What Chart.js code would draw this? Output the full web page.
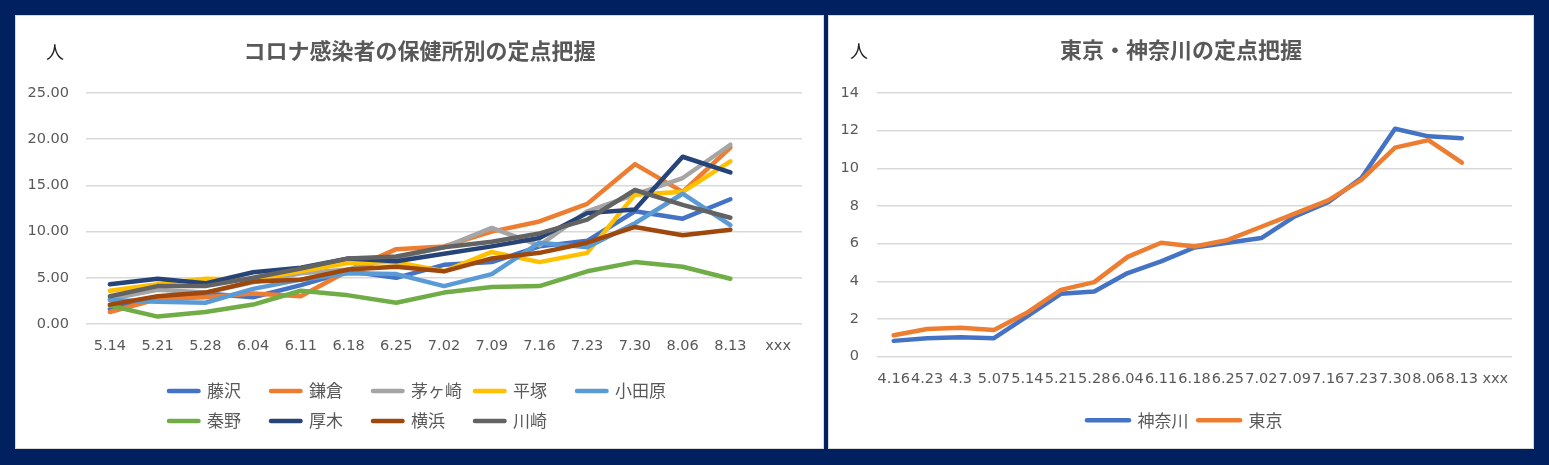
<!DOCTYPE html>
<html lang="ja">
<head>
<meta charset="utf-8">
<script src="https://cdn.jsdelivr.net/npm/chart.js@4.4.0/dist/chart.umd.min.js"></script>
<style>
  html, body { margin: 0; padding: 0; }
  body { width: 1549px; height: 465px; background: #002060; position: relative; overflow: hidden; }
  .cadre { position: absolute; top: 15px; height: 434px; box-sizing: border-box; border: 1px solid #d9d9d9; background: #fff; }
  .zone { position: relative; width: 100%; height: 100%; }
  .unite { position: absolute; font: 18px 'Noto Sans CJK JP'; color: #222; transform: translate(-50%, -50%); }
</style>
</head>
<body>
<div class="cadre" style="left:15px;width:809px">
  <div class="zone"><canvas id="graph1"></canvas><span class="unite" style="left:39px;top:35px">人</span></div>
</div>
<div class="cadre" style="left:828px;width:706px">
  <div class="zone"><canvas id="graph2"></canvas><span class="unite" style="left:30px;top:34px">人</span></div>
</div>
<script>
// valeurs (保健所別)
const semaines = ['5.14', '5.21', '5.28', '6.04', '6.11', '6.18', '6.25', '7.02', '7.09', '7.16', '7.23', '7.30', '8.06', '8.13', 'xxx'];
const fujisawa  = [1.6, 2.9, 3.3, 2.9, 4.2, 5.7, 5.0, 6.4, 6.7, 8.4, 9.0, 12.2, 11.4, 13.5];
const kamakura  = [1.3, 2.7, 2.9, 3.3, 3.0, 5.8, 8.1, 8.4, 10.0, 11.1, 13.0, 17.3, 14.3, 19.1];
const chigasaki = [2.7, 3.7, 3.4, 4.5, 5.5, 5.9, 7.2, 8.3, 10.4, 8.5, 12.2, 14.0, 15.8, 19.4];
const hiratsuka = [3.6, 4.3, 4.9, 4.8, 5.7, 6.6, 6.7, 5.7, 7.8, 6.7, 7.7, 14.0, 14.3, 17.6];
const odawara   = [2.6, 2.4, 2.3, 3.8, 4.8, 5.5, 5.4, 4.1, 5.4, 8.8, 8.3, 10.9, 14.1, 10.7];
const hadano    = [2.0, 0.8, 1.3, 2.1, 3.6, 3.1, 2.3, 3.4, 4.0, 4.1, 5.7, 6.7, 6.2, 4.9];
const atsugi    = [4.3, 4.9, 4.4, 5.6, 6.1, 7.1, 6.8, 7.6, 8.4, 9.3, 12.0, 12.4, 18.1, 16.4];
const yokohama  = [2.1, 3.0, 3.4, 4.6, 4.8, 5.9, 6.2, 5.7, 7.1, 7.7, 8.8, 10.5, 9.6, 10.2];
const kawasaki  = [3.0, 4.1, 4.1, 5.0, 6.0, 7.1, 7.3, 8.3, 8.9, 9.8, 11.3, 14.5, 12.9, 11.5];

// valeurs (東京・神奈川)
const semaines2 = ['4.16', '4.23', '4.3', '5.07', '5.14', '5.21', '5.28', '6.04', '6.11', '6.18', '6.25', '7.02', '7.09', '7.16', '7.23', '7.30', '8.06', '8.13', 'xxx'];
const kanagawa = [0.84, 0.98, 1.03, 0.98, 2.15, 3.34, 3.46, 4.44, 5.06, 5.8, 6.05, 6.3, 7.45, 8.2, 9.5, 12.1, 11.7, 11.6];
const tokyo    = [1.14, 1.47, 1.54, 1.42, 2.35, 3.55, 3.96, 5.3, 6.05, 5.85, 6.2, 6.9, 7.6, 8.3, 9.4, 11.1, 11.5, 10.3];

const gris = '#595959';
const cjk = "'Noto Sans CJK JP'";
const policeAxe = { size: 14.5, family: "'DejaVu Sans'" };
Chart.defaults.font.family = "Lato, 'Noto Sans CJK JP', sans-serif";
Chart.defaults.color = gris;
Chart.defaults.animation = false;

// place la légende à gauche comme dans Excel (colonnes fixes) et centre le titre sur tout le cadre
const decalageLegende = {
  id: 'decalageLegende',
  afterLayout(chart, args, opts) {
    chart.legend.left = opts.gauche;
    chart.legend.right = opts.gauche + opts.largeur;
    chart.titleBlock.left = 0;
    chart.titleBlock.right = chart.width;
  }
};

function courbe(label, valeurs, couleur, ordre) {
  return {
    label: label,
    data: valeurs,
    borderColor: couleur,
    backgroundColor: couleur,
    borderWidth: 4.5,
    pointRadius: 0,
    pointHoverRadius: 0,
    pointBorderWidth: 4.5,
    borderCapStyle: 'round',
    borderJoinStyle: 'round',
    tension: 0,
    order: ordre   // la dernière série est dessinée au-dessus
  };
}

function etiquettes(chart, nbCar) {
  const items = Chart.defaults.plugins.legend.labels.generateLabels(chart);
  items.sort((a, b) => a.datasetIndex - b.datasetIndex);
  items.forEach(item => {
    item.text = item.text.padEnd(nbCar, '\u3000');
    item.lineWidth = 4.5;
    item.lineCap = 'round';
  });
  return items;
}

new Chart(document.getElementById('graph1'), {
  type: 'line',
  data: {
    labels: semaines,
    datasets: [
      courbe('藤沢', fujisawa, '#4472C4', 9),
      courbe('鎌倉', kamakura, '#ED7D31', 8),
      courbe('茅ヶ崎', chigasaki, '#A5A5A5', 7),
      courbe('平塚', hiratsuka, '#FFC000', 6),
      courbe('小田原', odawara, '#5B9BD5', 5),
      courbe('秦野', hadano, '#70AD47', 4),
      courbe('厚木', atsugi, '#264478', 3),
      courbe('横浜', yokohama, '#9E480E', 2),
      courbe('川崎', kawasaki, '#636363', 1)
    ]
  },
  options: {
    responsive: true,
    maintainAspectRatio: false,
    layout: { padding: { left: 8, right: 21, top: 0, bottom: 8.6 } },
    scales: {
      x: {
        offset: true,
        grid: { display: false, drawTicks: false },
        border: { display: false },
        ticks: { color: gris, font: policeAxe, padding: 14, autoSkip: false, maxRotation: 0 }
      },
      y: {
        min: 0,
        max: 25,
        afterFit: axe => { axe.width = 62; },
        grid: { color: '#D9D9D9', lineWidth: 1.5, drawTicks: false },
        border: { display: false },
        ticks: { stepSize: 5, color: gris, font: policeAxe, padding: 17, callback: v => v.toFixed(2) }
      }
    },
    plugins: {
      title: {
        display: true,
        text: 'コロナ感染者の保健所別の定点把握',
        color: gris,
        font: { size: 22, weight: 'bold', family: cjk },
        padding: { top: 21.3, bottom: 29.3 }
      },
      legend: {
        position: 'bottom',
        align: 'start',
        labels: {
          usePointStyle: true,
          pointStyle: 'line',
          pointStyleWidth: 29.5,
          padding: 13,
          color: gris,
          font: { size: 17, family: cjk },
          generateLabels: chart => etiquettes(chart, 3)
        }
      },
      tooltip: { enabled: false },
      decalageLegende: { gauche: 140, largeur: 570 }
    }
  },
  plugins: [decalageLegende]
});

new Chart(document.getElementById('graph2'), {
  type: 'line',
  data: {
    labels: semaines2,
    datasets: [
      courbe('神奈川', kanagawa, '#4472C4', 2),
      courbe('東京', tokyo, '#ED7D31', 1)
    ]
  },
  options: {
    responsive: true,
    maintainAspectRatio: false,
    layout: { padding: { left: 8, right: 21, top: 0, bottom: 9.3 } },
    scales: {
      x: {
        offset: true,
        grid: { display: false, drawTicks: false },
        border: { display: false },
        ticks: { color: gris, font: policeAxe, padding: 14, autoSkip: false, maxRotation: 0 }
      },
      y: {
        min: 0,
        max: 14,
        afterFit: axe => { axe.width = 40; },
        grid: { color: '#D9D9D9', lineWidth: 1.5, drawTicks: false },
        border: { display: false },
        ticks: { stepSize: 2, color: gris, font: policeAxe, padding: 18 }
      }
    },
    plugins: {
      title: {
        display: true,
        text: '東京・神奈川の定点把握',
        color: gris,
        font: { size: 22, weight: 'bold', family: cjk },
        padding: { top: 20.8, bottom: 29.8 }
      },
      legend: {
        position: 'bottom',
        align: 'start',
        labels: {
          usePointStyle: true,
          pointStyle: 'line',
          pointStyleWidth: 42,
          padding: 9.6,
          color: gris,
          font: { size: 17, family: cjk },
          generateLabels: chart => etiquettes(chart, 0)
        }
      },
      tooltip: { enabled: false },
      decalageLegende: { gauche: 248.4, largeur: 400 }
    }
  },
  plugins: [decalageLegende]
});
</script>
</body>
</html>
